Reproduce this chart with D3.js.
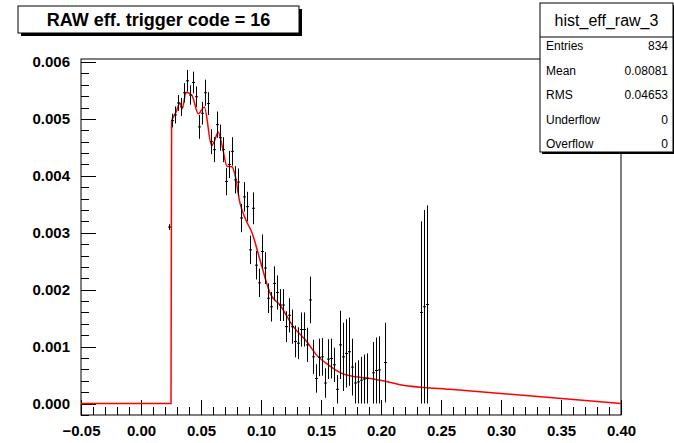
<!DOCTYPE html>
<html>
<head>
<meta charset="utf-8">
<script src="https://cdn.jsdelivr.net/npm/d3@7"></script>
<style>
  body { margin: 0; background: #fff; }
  svg { display: block; font-family: "Liberation Sans", Arial, Helvetica, sans-serif; }
</style>
</head>
<body>
<div id="my_dataviz"></div>
<script>
// histogram bins (bin centre, content, error)
const binX = [0.02375, 0.02625, 0.02875, 0.03125, 0.03375, 0.03625, 0.03875, 0.04125, 0.04375, 0.04625,
              0.04875, 0.05125, 0.05375, 0.05625, 0.05875, 0.06125, 0.06375, 0.06625, 0.06875, 0.07125,
              0.07375, 0.07625, 0.07875, 0.08125, 0.08375, 0.08625, 0.08875, 0.09125, 0.09375, 0.09625,
              0.09875, 0.10125, 0.10375, 0.10625, 0.10875, 0.11125, 0.11375, 0.11625, 0.11875, 0.12125,
              0.12375, 0.12625, 0.12875, 0.13125, 0.13375, 0.13625, 0.13875, 0.14125, 0.14375, 0.14625,
              0.14875, 0.15125, 0.15375, 0.15625, 0.15875, 0.16125, 0.16375, 0.16625, 0.16875, 0.17125,
              0.17375, 0.17625, 0.17875, 0.18125, 0.18375, 0.18625, 0.18875, 0.19375, 0.19625, 0.19875,
              0.20375, 0.23375, 0.23625, 0.23875];
const binY = [0.00310, 0.00497, 0.00507, 0.00528, 0.00521, 0.00546, 0.00567, 0.00542, 0.00564, 0.00539,
              0.00486, 0.00510, 0.00546, 0.00527, 0.00460, 0.00446, 0.00490, 0.00467, 0.00446, 0.00390,
              0.00420, 0.00443, 0.00393, 0.00389, 0.00326, 0.00363, 0.00346, 0.00270, 0.00343, 0.00243,
              0.00212, 0.00267, 0.00238, 0.00185, 0.00170, 0.00211, 0.00195, 0.00173, 0.00173, 0.00135,
              0.00155, 0.00135, 0.00109, 0.00106, 0.00130, 0.00130, 0.00103, 0.00182, 0.00082, 0.00044,
              0.00081, 0.00082, 0.00036, 0.00078, 0.00079, 0.00068, 0.00025, 0.00103, 0.00082, 0.00088,
              0.00091, 0.00064, 0.00036, 0.00038, 0.00041, 0.00043, 0.00044, 0.00054, 0.00058, 0.00059,
              0.00072, 0.00160, 0.00170, 0.00174];
const binErr = [0.00005, 0.00012, 0.00015, 0.00014, 0.00016, 0.00017, 0.00019, 0.00017, 0.00019, 0.00018,
                0.00021, 0.00020, 0.00023, 0.00020, 0.00022, 0.00022, 0.00023, 0.00023, 0.00022, 0.00024,
                0.00024, 0.00025, 0.00024, 0.00024, 0.00025, 0.00026, 0.00026, 0.00025, 0.00028, 0.00025,
                0.00025, 0.00030, 0.00028, 0.00026, 0.00026, 0.00030, 0.00030, 0.00028, 0.00028, 0.00027,
                0.00030, 0.00030, 0.00028, 0.00028, 0.00030, 0.00030, 0.00030, 0.00041, 0.00030, 0.00025,
                0.00033, 0.00033, 0.00026, 0.00035, 0.00035, 0.00030, 0.00025, 0.00060, 0.00060, 0.00060,
                0.00060, 0.00050, 0.00036, 0.00038, 0.00041, 0.00043, 0.00044, 0.00054, 0.00058, 0.00059,
                0.00070, 0.00160, 0.00170, 0.00174];
const binWidth = 0.0025;

// smoothed red curve
const curveX = [-0.05, 0.025, 0.0255, 0.0292, 0.0325, 0.0344, 0.0375, 0.0423, 0.0478, 0.0528,
                0.0589, 0.0608, 0.0644, 0.0675, 0.0717, 0.0758, 0.0783, 0.0825, 0.0875, 0.0925,
                0.0992, 0.1048, 0.1075, 0.1158, 0.1269, 0.1381, 0.1464, 0.1561, 0.1683, 0.1783,
                0.1883, 0.2017, 0.2158, 0.2575, 0.40];
const curveY = [0, 0, 0.00495, 0.00512, 0.00528, 0.00518, 0.00547, 0.00542, 0.00509, 0.00521,
                0.00453, 0.00459, 0.00477, 0.00454, 0.00417, 0.00416, 0.00402, 0.00352, 0.00322, 0.00300,
                0.00252, 0.00211, 0.00194, 0.00173, 0.00135, 0.00109, 0.00085, 0.00068, 0.00052, 0.00047,
                0.00045, 0.00040, 0.00033, 0.00025, 0];

const xTicks = [-0.05, 0, 0.05, 0.10, 0.15, 0.20, 0.25, 0.30, 0.35, 0.40];
const yTicks = [0, 0.001, 0.002, 0.003, 0.004, 0.005, 0.006];

const titleText = "RAW eff. trigger code = 16";
const statTitle = "hist_eff_raw_3";
const statNames = ["Entries", "Mean", "RMS", "Underflow", "Overflow"];
const statValues = ["834", "0.08081", "0.04653", "0", "0"];

const W = 674, H = 443;
const frame = {left: 81, right: 621, top: 59, bottom: 415};

const svg = d3.select("#my_dataviz").append("svg")
    .attr("width", W).attr("height", H);

const xScale = d3.scaleLinear().domain([-0.05, 0.40]).range([frame.left, frame.right]);
const yScale = d3.scaleLinear().domain([-0.000202, 0.006053]).range([frame.bottom, frame.top]);

// frame
svg.append("rect")
    .attr("x", frame.left).attr("y", frame.top)
    .attr("width", frame.right - frame.left).attr("height", frame.bottom - frame.top)
    .attr("fill", "none").attr("stroke", "#000").attr("stroke-width", 1);

// x axis
const xAxis = svg.append("g")
    .attr("transform", `translate(0,${frame.bottom})`)
    .call(d3.axisBottom(xScale).tickValues(xTicks).tickSize(0).tickPadding(10)
        .tickFormat(d3.format(".2f")));
xAxis.select(".domain").remove();
xAxis.selectAll("text").attr("font-size", 15).attr("font-weight", "bold")
    .attr("font-family", "Liberation Sans, Arial, sans-serif").attr("fill", "#000");

// x ticks drawn upward from bottom (major + minor)
const xMinor = d3.range(-0.05, 0.4001, 0.01);
svg.append("g").selectAll("line").data(xMinor).enter().append("line")
    .attr("x1", d => Math.round(xScale(d)) + 0.5).attr("x2", d => Math.round(xScale(d)) + 0.5)
    .attr("y1", frame.bottom)
    .attr("y2", (d, i) => frame.bottom - (i % 5 === 0 ? 15 : 8))
    .attr("stroke", "#000");

// y axis
const yAxis = svg.append("g")
    .attr("transform", `translate(${frame.left},0)`)
    .call(d3.axisLeft(yScale).tickValues(yTicks).tickSize(0).tickPadding(11)
        .tickFormat(d3.format(".3f")));
yAxis.select(".domain").remove();
yAxis.selectAll("text").attr("font-size", 15).attr("font-weight", "bold")
    .attr("font-family", "Liberation Sans, Arial, sans-serif").attr("fill", "#000");

const yMinor = d3.range(-0.0002, 0.00601, 0.0002);
svg.append("g").selectAll("line").data(yMinor).enter().append("line")
    .attr("x1", frame.left)
    .attr("x2", (d, i) => frame.left + ((i - 1) % 5 === 0 ? 15 : 8))
    .attr("y1", d => Math.round(yScale(d)) + 0.5).attr("y2", d => Math.round(yScale(d)) + 0.5)
    .attr("stroke", "#000");

// red curve
const curveData = curveX.map((x, i) => ({x: x, y: curveY[i]}));
svg.append("path")
    .datum(curveData)
    .attr("fill", "none")
    .attr("stroke", "#ff0000")
    .attr("stroke-width", 1.5)
    .attr("d", d3.line().x(d => xScale(d.x)).y(d => yScale(d.y)).curve(d3.curveMonotoneX));

// histogram points with error bars
const bins = binX.map((x, i) => ({x: x, y: binY[i], e: binErr[i]}));
const pts = svg.append("g").attr("stroke", "#000").attr("stroke-width", 1);
pts.selectAll(".ebar").data(bins).enter().append("line")
    .attr("class", "ebar")
    .attr("x1", d => xScale(d.x)).attr("x2", d => xScale(d.x))
    .attr("y1", d => yScale(d.y - d.e)).attr("y2", d => yScale(d.y + d.e));
pts.selectAll(".hbar").data(bins).enter().append("line")
    .attr("class", "hbar")
    .attr("x1", d => xScale(d.x - binWidth / 2)).attr("x2", d => xScale(d.x + binWidth / 2))
    .attr("y1", d => yScale(d.y)).attr("y2", d => yScale(d.y));

// title box
const tb = {x: 18, y: 6, w: 281, h: 27};
svg.append("rect").attr("x", tb.x + 3).attr("y", tb.y + 3).attr("width", tb.w).attr("height", tb.h).attr("fill", "#000");
svg.append("rect").attr("x", tb.x).attr("y", tb.y).attr("width", tb.w).attr("height", tb.h)
    .attr("fill", "#fff").attr("stroke", "#000");
svg.append("text").attr("x", tb.x + tb.w / 2).attr("y", tb.y + 20)
    .attr("text-anchor", "middle").attr("font-size", 18).attr("font-weight", "bold")
    .text(titleText);

// stats box
const sb = {x: 540, y: 3, w: 133, h: 149, head: 34, row: 24.6};
svg.append("rect").attr("x", sb.x + 2).attr("y", sb.y + 2).attr("width", sb.w).attr("height", sb.h).attr("fill", "#000");
svg.append("rect").attr("x", sb.x).attr("y", sb.y).attr("width", sb.w).attr("height", sb.h)
    .attr("fill", "#fff").attr("stroke", "#000");
svg.append("line").attr("x1", sb.x).attr("x2", sb.x + sb.w)
    .attr("y1", sb.y + sb.head).attr("y2", sb.y + sb.head).attr("stroke", "#000");
svg.append("text").attr("x", sb.x + sb.w / 2).attr("y", sb.y + 23)
    .attr("text-anchor", "middle").attr("font-size", 16).text(statTitle);
const rows = svg.append("g");
rows.selectAll(".sname").data(statNames).enter().append("text")
    .attr("x", sb.x + 6).attr("y", (d, i) => 50 + i * sb.row)
    .attr("font-size", 12).text(d => d);
rows.selectAll(".sval").data(statValues).enter().append("text")
    .attr("x", sb.x + sb.w - 5).attr("y", (d, i) => 50 + i * sb.row)
    .attr("text-anchor", "end").attr("font-size", 12).text(d => d);
</script>
</body>
</html>
